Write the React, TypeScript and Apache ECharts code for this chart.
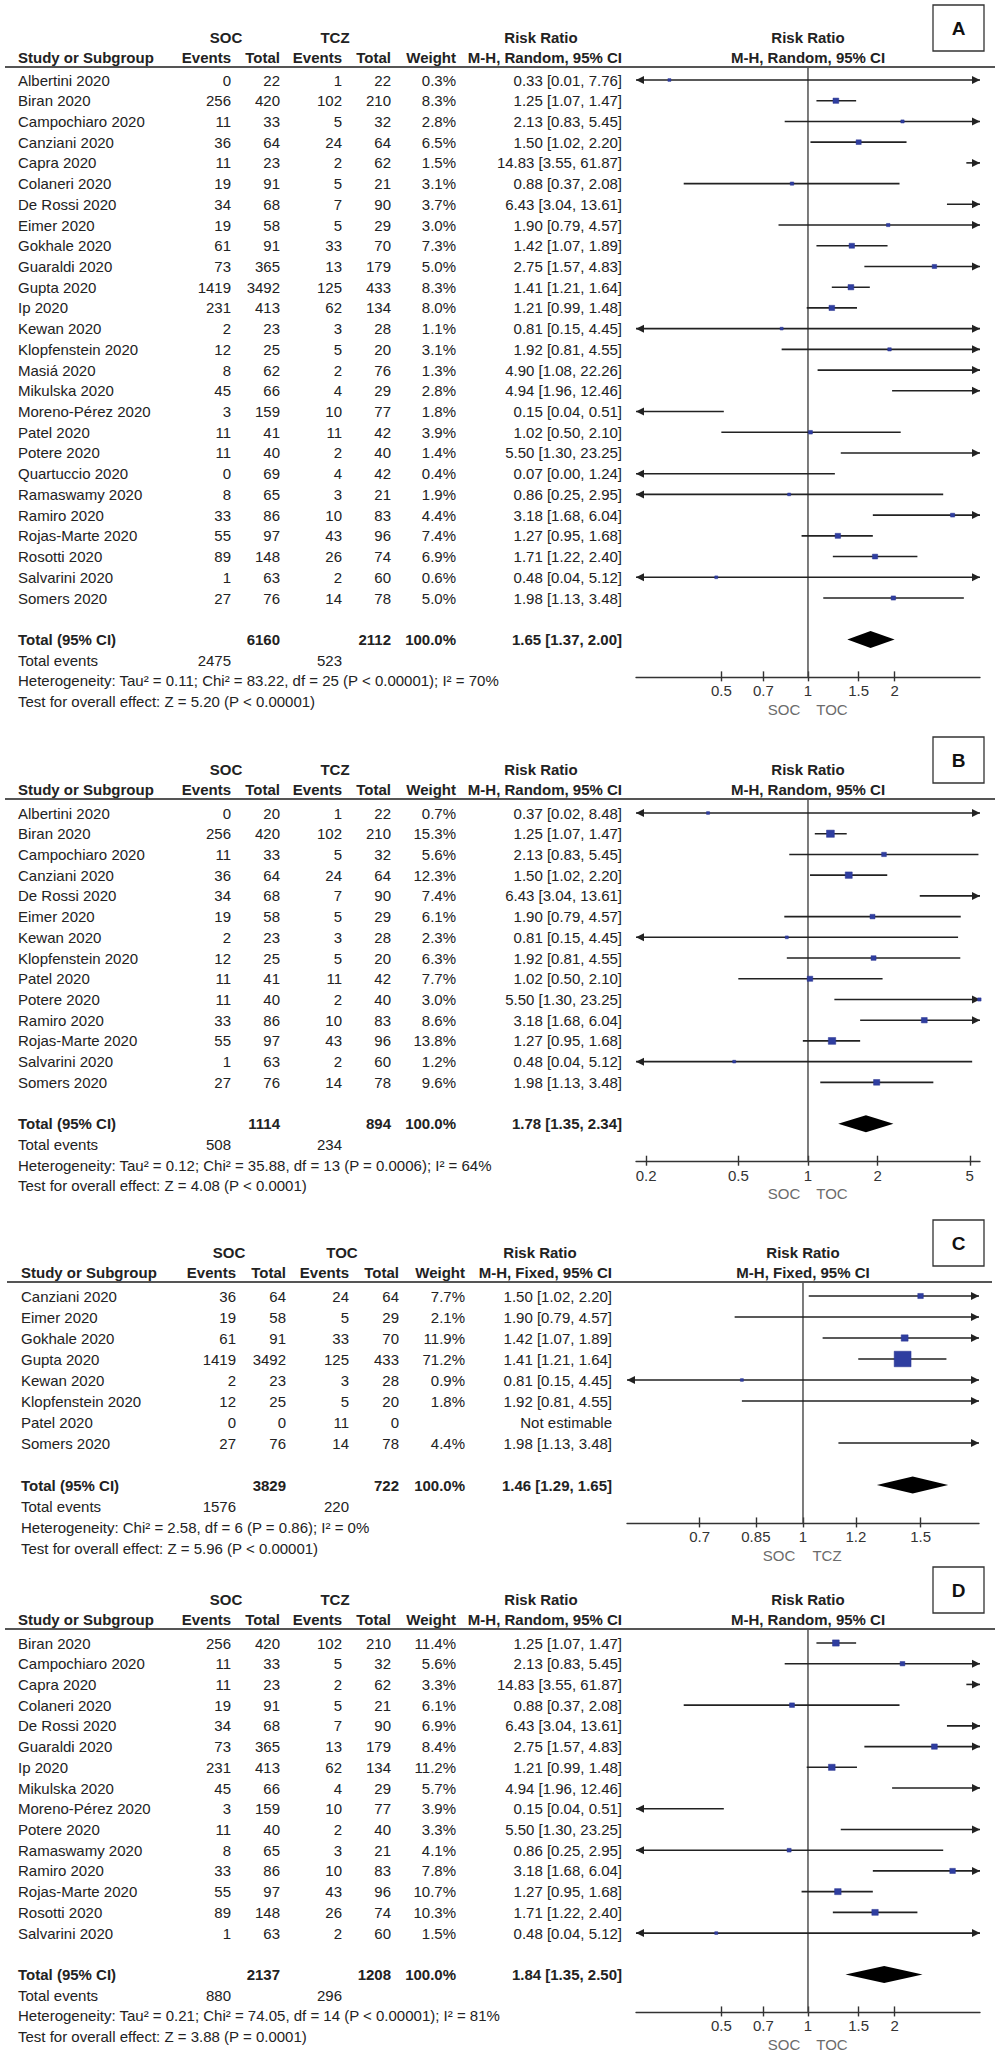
import React, { useEffect, useRef } from "react";
import * as echarts from "echarts";

// ---------------- Panel A ----------------
const studiesA = ["Albertini 2020", "Biran 2020", "Campochiaro 2020", "Canziani 2020", "Capra 2020", "Colaneri 2020", "De Rossi 2020", "Eimer 2020", "Gokhale 2020", "Guaraldi 2020", "Gupta 2020", "Ip 2020", "Kewan 2020", "Klopfenstein 2020", "Masiá 2020", "Mikulska 2020", "Moreno-Pérez 2020", "Patel 2020", "Potere 2020", "Quartuccio 2020", "Ramaswamy 2020", "Ramiro 2020", "Rojas-Marte 2020", "Rosotti 2020", "Salvarini 2020", "Somers 2020"];
const socEventsA = [0, 256, 11, 36, 11, 19, 34, 19, 61, 73, 1419, 231, 2, 12, 8, 45, 3, 11, 11, 0, 8, 33, 55, 89, 1, 27];
const socTotalA = [22, 420, 33, 64, 23, 91, 68, 58, 91, 365, 3492, 413, 23, 25, 62, 66, 159, 41, 40, 69, 65, 86, 97, 148, 63, 76];
const tczEventsA = [1, 102, 5, 24, 2, 5, 7, 5, 33, 13, 125, 62, 3, 5, 2, 4, 10, 11, 2, 4, 3, 10, 43, 26, 2, 14];
const tczTotalA = [22, 210, 32, 64, 62, 21, 90, 29, 70, 179, 433, 134, 28, 20, 76, 29, 77, 42, 40, 42, 21, 83, 96, 74, 60, 78];
const weightA = [0.3, 8.3, 2.8, 6.5, 1.5, 3.1, 3.7, 3.0, 7.3, 5.0, 8.3, 8.0, 1.1, 3.1, 1.3, 2.8, 1.8, 3.9, 1.4, 0.4, 1.9, 4.4, 7.4, 6.9, 0.6, 5.0];
const rrA = [0.33, 1.25, 2.13, 1.5, 14.83, 0.88, 6.43, 1.9, 1.42, 2.75, 1.41, 1.21, 0.81, 1.92, 4.9, 4.94, 0.15, 1.02, 5.5, 0.07, 0.86, 3.18, 1.27, 1.71, 0.48, 1.98];
const loA = [0.01, 1.07, 0.83, 1.02, 3.55, 0.37, 3.04, 0.79, 1.07, 1.57, 1.21, 0.99, 0.15, 0.81, 1.08, 1.96, 0.04, 0.5, 1.3, 0.0, 0.25, 1.68, 0.95, 1.22, 0.04, 1.13];
const hiA = [7.76, 1.47, 5.45, 2.2, 61.87, 2.08, 13.61, 4.57, 1.89, 4.83, 1.64, 1.48, 4.45, 4.55, 22.26, 12.46, 0.51, 2.1, 23.25, 1.24, 2.95, 6.04, 1.68, 2.4, 5.12, 3.48];
const totalsA = [6160, 2112];
const eventsA = [2475, 523];
const overallA = [1.65, 1.37, 2.0];
const hetA = "Heterogeneity: Tau² = 0.11; Chi² = 83.22, df = 25 (P < 0.00001); I² = 70%";
const testA = "Test for overall effect: Z = 5.20 (P < 0.00001)";
const ticksA = [0.5, 0.7, 1, 1.5, 2];
const rangeA = [0.2526, 3.96];

// ---------------- Panel B ----------------
const studiesB = ["Albertini 2020", "Biran 2020", "Campochiaro 2020", "Canziani 2020", "De Rossi 2020", "Eimer 2020", "Kewan 2020", "Klopfenstein 2020", "Patel 2020", "Potere 2020", "Ramiro 2020", "Rojas-Marte 2020", "Salvarini 2020", "Somers 2020"];
const socEventsB = [0, 256, 11, 36, 34, 19, 2, 12, 11, 11, 33, 55, 1, 27];
const socTotalB = [20, 420, 33, 64, 68, 58, 23, 25, 41, 40, 86, 97, 63, 76];
const tczEventsB = [1, 102, 5, 24, 7, 5, 3, 5, 11, 2, 10, 43, 2, 14];
const tczTotalB = [22, 210, 32, 64, 90, 29, 28, 20, 42, 40, 83, 96, 60, 78];
const weightB = [0.7, 15.3, 5.6, 12.3, 7.4, 6.1, 2.3, 6.3, 7.7, 3.0, 8.6, 13.8, 1.2, 9.6];
const rrB = [0.37, 1.25, 2.13, 1.5, 6.43, 1.9, 0.81, 1.92, 1.02, 5.5, 3.18, 1.27, 0.48, 1.98];
const loB = [0.02, 1.07, 0.83, 1.02, 3.04, 0.79, 0.15, 0.81, 0.5, 1.3, 1.68, 0.95, 0.04, 1.13];
const hiB = [8.48, 1.47, 5.45, 2.2, 13.61, 4.57, 4.45, 4.55, 2.1, 23.25, 6.04, 1.68, 5.12, 3.48];
const totalsB = [1114, 894];
const eventsB = [508, 234];
const overallB = [1.78, 1.35, 2.34];
const hetB = "Heterogeneity: Tau² = 0.12; Chi² = 35.88, df = 13 (P = 0.0006); I² = 64%";
const testB = "Test for overall effect: Z = 4.08 (P < 0.0001)";
const ticksB = [0.2, 0.5, 1, 2, 5];
const rangeB = [0.1807, 5.535];

// ---------------- Panel C ----------------
const studiesC = ["Canziani 2020", "Eimer 2020", "Gokhale 2020", "Gupta 2020", "Kewan 2020", "Klopfenstein 2020", "Patel 2020", "Somers 2020"];
const socEventsC = [36, 19, 61, 1419, 2, 12, 0, 27];
const socTotalC = [64, 58, 91, 3492, 23, 25, 0, 76];
const tczEventsC = [24, 5, 33, 125, 3, 5, 11, 14];
const tczTotalC = [64, 29, 70, 433, 28, 20, 0, 78];
const weightC = [7.7, 2.1, 11.9, 71.2, 0.9, 1.8, null, 4.4];
const rrC = [1.5, 1.9, 1.42, 1.41, 0.81, 1.92, null, 1.98];
const loC = [1.02, 0.79, 1.07, 1.21, 0.15, 0.81, null, 1.13];
const hiC = [2.2, 4.57, 1.89, 1.64, 4.45, 4.55, null, 3.48];
const totalsC = [3829, 722];
const eventsC = [1576, 220];
const overallC = [1.46, 1.29, 1.65];
const hetC = "Heterogeneity: Chi² = 2.58, df = 6 (P = 0.86); I² = 0%";
const testC = "Test for overall effect: Z = 5.96 (P < 0.00001)";
const ticksC = [0.7, 0.85, 1, 1.2, 1.5];
const rangeC = [0.545, 1.835];

// ---------------- Panel D ----------------
const studiesD = ["Biran 2020", "Campochiaro 2020", "Capra 2020", "Colaneri 2020", "De Rossi 2020", "Guaraldi 2020", "Ip 2020", "Mikulska 2020", "Moreno-Pérez 2020", "Potere 2020", "Ramaswamy 2020", "Ramiro 2020", "Rojas-Marte 2020", "Rosotti 2020", "Salvarini 2020"];
const socEventsD = [256, 11, 11, 19, 34, 73, 231, 45, 3, 11, 8, 33, 55, 89, 1];
const socTotalD = [420, 33, 23, 91, 68, 365, 413, 66, 159, 40, 65, 86, 97, 148, 63];
const tczEventsD = [102, 5, 2, 5, 7, 13, 62, 4, 10, 2, 3, 10, 43, 26, 2];
const tczTotalD = [210, 32, 62, 21, 90, 179, 134, 29, 77, 40, 21, 83, 96, 74, 60];
const weightD = [11.4, 5.6, 3.3, 6.1, 6.9, 8.4, 11.2, 5.7, 3.9, 3.3, 4.1, 7.8, 10.7, 10.3, 1.5];
const rrD = [1.25, 2.13, 14.83, 0.88, 6.43, 2.75, 1.21, 4.94, 0.15, 5.5, 0.86, 3.18, 1.27, 1.71, 0.48];
const loD = [1.07, 0.83, 3.55, 0.37, 3.04, 1.57, 0.99, 1.96, 0.04, 1.3, 0.25, 1.68, 0.95, 1.22, 0.04];
const hiD = [1.47, 5.45, 61.87, 2.08, 13.61, 4.83, 1.48, 12.46, 0.51, 23.25, 2.95, 6.04, 1.68, 2.4, 5.12];
const totalsD = [2137, 1208];
const eventsD = [880, 296];
const overallD = [1.84, 1.35, 2.5];
const hetD = "Heterogeneity: Tau² = 0.21; Chi² = 74.05, df = 14 (P < 0.00001); I² = 81%";
const testD = "Test for overall effect: Z = 3.88 (P = 0.0001)";
const ticksD = [0.5, 0.7, 1, 1.5, 2];
const rangeD = [0.2526, 3.96];

// ---------------- Layout (positions, not data) ----------------
const FONT = "'Liberation Sans', Arial, Helvetica, sans-serif";
const colsStd = { name: 18, socEv: 231, socN: 280, tczEv: 342, tczN: 391, weight: 456, rr: 622, socHead: 226, grpHead: 335, rrHead: 541, forestL: 636, forestR: 980, lineL: 5, lineR: 995, boxL: 933, boxR: 984 };
const colsC = { name: 21, socEv: 236, socN: 286, tczEv: 349, tczN: 399, weight: 465, rr: 612, socHead: 229, grpHead: 342, rrHead: 540, forestL: 627, forestR: 979, lineL: 7, lineR: 992, boxL: 933, boxR: 984 };

const panels = [
  { letter: "A", names: studiesA, se: socEventsA, sn: socTotalA, te: tczEventsA, tn: tczTotalA, w: weightA, rr: rrA, lo: loA, hi: hiA, totals: totalsA, events: eventsA, overall: overallA, het: hetA, test: testA, ticks: ticksA, range: rangeA, method: "Random", group: "TCZ", axisWords: ["SOC", "TOC"], cols: colsStd, lineY: 67, firstY: 80, sp: 20.72 },
  { letter: "B", names: studiesB, se: socEventsB, sn: socTotalB, te: tczEventsB, tn: tczTotalB, w: weightB, rr: rrB, lo: loB, hi: hiB, totals: totalsB, events: eventsB, overall: overallB, het: hetB, test: testB, ticks: ticksB, range: rangeB, method: "Random", group: "TCZ", axisWords: ["SOC", "TOC"], cols: colsStd, lineY: 799, firstY: 813, sp: 20.72 },
  { letter: "C", names: studiesC, se: socEventsC, sn: socTotalC, te: tczEventsC, tn: tczTotalC, w: weightC, rr: rrC, lo: loC, hi: hiC, totals: totalsC, events: eventsC, overall: overallC, het: hetC, test: testC, ticks: ticksC, range: rangeC, method: "Fixed", group: "TOC", axisWords: ["SOC", "TCZ"], cols: colsC, lineY: 1282, firstY: 1296, sp: 21 },
  { letter: "D", names: studiesD, se: socEventsD, sn: socTotalD, te: tczEventsD, tn: tczTotalD, w: weightD, rr: rrD, lo: loD, hi: hiD, totals: totalsD, events: eventsD, overall: overallD, het: hetD, test: testD, ticks: ticksD, range: rangeD, method: "Random", group: "TCZ", axisWords: ["SOC", "TOC"], cols: colsStd, lineY: 1629, firstY: 1643, sp: 20.72 },
];

const ln = (v: number) => Math.log(Math.max(v, 0.0005));
const f2 = (v: number) => v.toFixed(2);
const rrText = (r: number, l: number, h: number) => `${f2(r)} [${f2(l)}, ${f2(h)}]`;
const tickFmt = (v: number) => String(Number(Math.exp(v).toFixed(2)));

type Cell = { x: number; r: number; text: string; align: string; bold?: boolean; color?: string };

function buildOption() {
  const grid: any[] = [];
  const xAxis: any[] = [];
  const yAxis: any[] = [];
  const series: any[] = [];
  const graphic: any[] = [];

  panels.forEach((P) => {
    const N = P.names.length;
    const { lineY, firstY, sp, cols } = P;
    const axisRow = N + 2.83;
    const axisY = firstY + axisRow * sp;
    const center = (cols.forestL + cols.forestR) / 2;

    // ---- table grid (text cells positioned through its axes) ----
    const tg = grid.length;
    grid.push({ left: 0, top: firstY - 3 * sp, width: 1000, height: (N + 7.5) * sp, containLabel: false, outerBoundsMode: "none", show: false });
    const tx = xAxis.length;
    xAxis.push({ type: "value", gridIndex: tg, min: 0, max: 1000, show: false });
    const ty = yAxis.length;
    yAxis.push({ type: "value", gridIndex: tg, min: -3, max: N + 4.5, inverse: true, show: false });

    // ---- forest grid ----
    const fg = grid.length;
    grid.push({ left: cols.forestL, top: lineY, width: cols.forestR - cols.forestL, height: axisY - lineY, containLabel: false, outerBoundsMode: "none", show: false });
    const lnTicks = P.ticks.map((t) => Math.log(t));
    const fx = xAxis.length;
    xAxis.push({
      type: "value", gridIndex: fg, position: "bottom", min: Math.log(P.range[0]), max: Math.log(P.range[1]),
      axisLine: { show: true, onZero: false, lineStyle: { color: "#333", width: 1.4 } },
      axisTick: { show: true, inside: true, length: 6, customValues: lnTicks, lineStyle: { color: "#333", width: 1.4 } },
      axisLabel: { show: true, customValues: lnTicks, formatter: tickFmt, color: "#333", fontSize: 15, fontFamily: FONT, margin: 6 },
      splitLine: { show: false },
    });
    xAxis.push({
      type: "value", gridIndex: fg, position: "bottom", offset: 0, min: Math.log(P.range[0]), max: Math.log(P.range[1]),
      axisLine: { show: false, onZero: false },
      axisTick: { show: true, inside: false, length: 4, customValues: lnTicks, lineStyle: { color: "#333", width: 1.4 } },
      axisLabel: { show: false },
      splitLine: { show: false },
    });
    const fy = yAxis.length;
    const yMin = (lineY - firstY) / sp;
    yAxis.push({ type: "value", gridIndex: fg, min: yMin, max: axisRow, inverse: true, show: false });

    // vertical line of no effect
    series.push({
      type: "line", xAxisIndex: fx, yAxisIndex: fy, data: [[0, yMin], [0, axisRow]],
      symbol: "none", silent: true, z: 1, lineStyle: { color: "#444", width: 1.4 },
    });

    // study CIs and markers
    const studyData: any[] = [];
    P.names.forEach((_, i) => {
      const r = P.rr[i];
      if (r == null) return;
      studyData.push([ln(r), ln(P.lo[i] as number), ln(P.hi[i] as number), i, P.w[i] as number]);
    });
    series.push({
      type: "custom", coordinateSystem: "cartesian2d", xAxisIndex: fx, yAxisIndex: fy, z: 3,
      encode: { x: [0, 1, 2], y: 3 }, data: studyData, silent: true,
      renderItem: (params: any, api: any) => {
        const cs = params.coordSys;
        const x0 = cs.x, x1 = cs.x + cs.width;
        const pE = api.coord([api.value(0), api.value(3)]);
        const pL = api.coord([api.value(1), api.value(3)]);
        const pH = api.coord([api.value(2), api.value(3)]);
        const y = pE[1];
        const a = Math.max(x0, Math.min(x1, pL[0]));
        const b = Math.max(x0, Math.min(x1, pH[0]));
        const children: any[] = [
          { type: "line", shape: { x1: a, y1: y, x2: b, y2: y }, style: { stroke: "#222", lineWidth: 1.6 } },
        ];
        if (pL[0] < x0 - 0.5) children.push({ type: "polygon", shape: { points: [[x0, y], [x0 + 8, y - 4], [x0 + 8, y + 4]] }, style: { fill: "#222" } });
        if (pH[0] > x1 + 0.5) children.push({ type: "polygon", shape: { points: [[x1, y], [x1 - 8, y - 4], [x1 - 8, y + 4]] }, style: { fill: "#222" } });
        if (pE[0] >= x0 && pE[0] <= x1) {
          const s = Math.max(3, 2 * Math.sqrt(api.value(4)));
          const h = Math.max(2.5, s * 0.92);
          children.push({ type: "rect", shape: { x: pE[0] - s / 2, y: y - h / 2, width: s, height: h }, style: { fill: "#2f3ea0", stroke: "#2a3590", lineWidth: 0.5 } });
        }
        return { type: "group", children };
      },
    });

    // overall diamond
    series.push({
      type: "custom", coordinateSystem: "cartesian2d", xAxisIndex: fx, yAxisIndex: fy, z: 3,
      encode: { x: [0, 1, 2], y: 3 }, silent: true,
      data: [[ln(P.overall[0]), ln(P.overall[1]), ln(P.overall[2]), N + 1]],
      renderItem: (params: any, api: any) => {
        const pE = api.coord([api.value(0), api.value(3)]);
        const pL = api.coord([api.value(1), api.value(3)]);
        const pH = api.coord([api.value(2), api.value(3)]);
        const y = pE[1];
        return { type: "polygon", shape: { points: [[pL[0], y], [pE[0], y - 8.5], [pH[0], y], [pE[0], y + 8.5]] }, style: { fill: "#000" } };
      },
    });

    // ---- text cells ----
    const cells: Cell[] = [];
    const r1 = (lineY - 30 - firstY) / sp;
    const r2 = (lineY - 10 - firstY) / sp;
    cells.push({ x: cols.socHead, r: r1, text: "SOC", align: "center", bold: true });
    cells.push({ x: cols.grpHead, r: r1, text: P.group, align: "center", bold: true });
    cells.push({ x: cols.rrHead, r: r1, text: "Risk Ratio", align: "center", bold: true });
    cells.push({ x: center, r: r1, text: "Risk Ratio", align: "center", bold: true });
    cells.push({ x: cols.name, r: r2, text: "Study or Subgroup", align: "left", bold: true });
    cells.push({ x: cols.socEv, r: r2, text: "Events", align: "right", bold: true });
    cells.push({ x: cols.socN, r: r2, text: "Total", align: "right", bold: true });
    cells.push({ x: cols.tczEv, r: r2, text: "Events", align: "right", bold: true });
    cells.push({ x: cols.tczN, r: r2, text: "Total", align: "right", bold: true });
    cells.push({ x: cols.weight, r: r2, text: "Weight", align: "right", bold: true });
    cells.push({ x: cols.rr, r: r2, text: `M-H, ${P.method}, 95% CI`, align: "right", bold: true });
    cells.push({ x: center, r: r2, text: `M-H, ${P.method}, 95% CI`, align: "center", bold: true });

    P.names.forEach((name, i) => {
      cells.push({ x: cols.name, r: i, text: name, align: "left" });
      cells.push({ x: cols.socEv, r: i, text: String(P.se[i]), align: "right" });
      cells.push({ x: cols.socN, r: i, text: String(P.sn[i]), align: "right" });
      cells.push({ x: cols.tczEv, r: i, text: String(P.te[i]), align: "right" });
      cells.push({ x: cols.tczN, r: i, text: String(P.tn[i]), align: "right" });
      const w = P.w[i];
      if (w != null) cells.push({ x: cols.weight, r: i, text: `${(w as number).toFixed(1)}%`, align: "right" });
      const r = P.rr[i];
      cells.push({ x: cols.rr, r: i, text: r == null ? "Not estimable" : rrText(r, P.lo[i] as number, P.hi[i] as number), align: "right" });
    });

    cells.push({ x: cols.name, r: N + 1, text: "Total (95% CI)", align: "left", bold: true });
    cells.push({ x: cols.socN, r: N + 1, text: String(P.totals[0]), align: "right", bold: true });
    cells.push({ x: cols.tczN, r: N + 1, text: String(P.totals[1]), align: "right", bold: true });
    cells.push({ x: cols.weight, r: N + 1, text: "100.0%", align: "right", bold: true });
    cells.push({ x: cols.rr, r: N + 1, text: rrText(P.overall[0], P.overall[1], P.overall[2]), align: "right", bold: true });
    cells.push({ x: cols.name, r: N + 2, text: "Total events", align: "left" });
    cells.push({ x: cols.socEv, r: N + 2, text: String(P.events[0]), align: "right" });
    cells.push({ x: cols.tczEv, r: N + 2, text: String(P.events[1]), align: "right" });
    cells.push({ x: cols.name, r: N + 3, text: P.het, align: "left" });
    cells.push({ x: cols.name, r: N + 4, text: P.test, align: "left" });
    const rAx = axisRow + 32 / sp;
    cells.push({ x: center - 24, r: rAx, text: P.axisWords[0], align: "center", color: "#6b6b6b" });
    cells.push({ x: center + 24, r: rAx, text: P.axisWords[1], align: "center", color: "#6b6b6b" });

    series.push({
      type: "custom", coordinateSystem: "cartesian2d", xAxisIndex: tx, yAxisIndex: ty, z: 5, silent: true,
      encode: { x: 0, y: 1 }, data: cells.map((c) => [c.x, c.r]),
      renderItem: (params: any, api: any) => {
        const c = cells[params.dataIndex];
        const p = api.coord([api.value(0), api.value(1)]);
        return {
          type: "text", x: p[0], y: p[1],
          style: {
            text: c.text, align: c.align, textAlign: c.align, verticalAlign: "middle", textVerticalAlign: "middle",
            font: `${c.bold ? "bold " : ""}15px ${FONT}`, fill: c.color || "#222",
          },
        };
      },
    });

    // ---- decorations: header rule and panel letter box ----
    graphic.push({ type: "line", shape: { x1: cols.lineL, y1: lineY, x2: cols.lineR, y2: lineY }, style: { stroke: "#555", lineWidth: 2 }, z: 10 });
    const boxTop = lineY - 62;
    graphic.push({ type: "rect", shape: { x: cols.boxL, y: boxTop, width: cols.boxR - cols.boxL, height: 46 }, style: { fill: "#fff", stroke: "#333", lineWidth: 1.3 }, z: 10 });
    graphic.push({ type: "text", x: (cols.boxL + cols.boxR) / 2, y: boxTop + 23, style: { text: P.letter, align: "center", textAlign: "center", verticalAlign: "middle", textVerticalAlign: "middle", font: `bold 19px ${FONT}`, fill: "#111" }, z: 11 });
  });

  return { animation: false, backgroundColor: "#fff", textStyle: { fontFamily: FONT }, grid, xAxis, yAxis, series, graphic };
}

export default function App() {
  const ref = useRef<HTMLDivElement>(null);
  useEffect(() => {
    if (!ref.current) return;
    const chart = echarts.init(ref.current, null, { renderer: "svg" });
    chart.setOption(buildOption() as any);
    return () => chart.dispose();
  }, []);
  return <div ref={ref} style={{ position: "absolute", left: 0, top: 0, width: 1000, height: 2052, background: "#fff" }} />;
}
